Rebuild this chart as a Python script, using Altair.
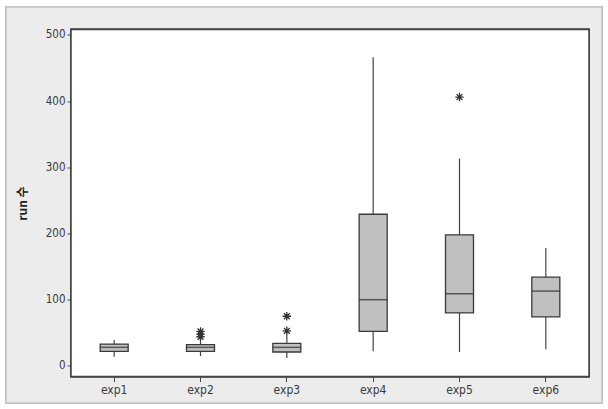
import altair as alt
import pandas as pd

groups = ["exp1", "exp2", "exp3", "exp4", "exp5", "exp6"]
w_low = [14, 15, 12, 22, 21, 25]
q1 = [22, 22, 21, 52, 80, 74]
median = [28, 28, 28, 100, 109, 113]
q3 = [33, 32, 34, 229, 198, 134]
w_high = [39, 40, 47, 466, 313, 178]

out_group = ["exp2", "exp2", "exp2", "exp3", "exp3", "exp5"]
out_value = [44, 48, 52, 53, 75, 406]

box = pd.DataFrame({"exp": groups, "lo": w_low, "q1": q1, "med": median, "q3": q3, "hi": w_high})
outl = pd.DataFrame({"exp": out_group, "v": out_value})

W, H = 518, 347
ydom = [-16, 508]

xenc = alt.X("exp:N", sort=groups, title=None,
             scale=alt.Scale(paddingInner=0, paddingOuter=0),
             axis=alt.Axis(labelAngle=0, labelFontSize=12, labelColor="#3a3a3a",
                           labelFont="DejaVu Sans Condensed", tickSize=5, tickColor="#444444",
                           domain=False, labelPadding=3, zindex=1))
yscale = alt.Scale(domain=ydom, nice=False, zero=False)
yaxis = alt.Axis(values=[0, 100, 200, 300, 400, 500], labelFontSize=11.5, labelColor="#3a3a3a",
                 labelFont="DejaVu Sans Condensed", tickSize=4, tickColor="#444444",
                 domain=False, grid=False, labelPadding=2, zindex=1,
                 title="run 수", titleFontSize=12, titleFontWeight="bold",
                 titleFont="Noto Sans CJK KR", titleColor="#222222", titlePadding=16)

base = alt.Chart(box)

frame = base.mark_rect(fill="#ececec", stroke="#c4c4c4", strokeWidth=1.5).encode(
    x=alt.value(-65), x2=alt.value(531), y=alt.value(-22.5), y2=alt.value(373.5))
plotbg = base.mark_rect(fill="white", stroke="#444444", strokeWidth=1.5).encode(
    x=alt.value(0), x2=alt.value(W), y=alt.value(0), y2=alt.value(H))

whisk = base.mark_rule(color="#444444", strokeWidth=1.2).encode(
    x=xenc, y=alt.Y("lo:Q", scale=yscale, axis=yaxis), y2="hi:Q")
boxes = base.mark_bar(size=28, fill="#c0c0c0", stroke="#3a3a3a", strokeWidth=1.3).encode(
    x=xenc, y=alt.Y("q1:Q", scale=yscale, axis=yaxis), y2="q3:Q")
meds = base.mark_tick(size=28, thickness=1.5, color="#2a2a2a").encode(
    x=xenc, y=alt.Y("med:Q", scale=yscale, axis=yaxis))

ast = "M-1,0L1,0M0,-1L0,1M-0.7,-0.7L0.7,0.7M-0.7,0.7L0.7,-0.7"
outs = alt.Chart(outl).mark_point(shape=ast, size=70, filled=False, stroke="#333333",
                                   strokeWidth=1.3, opacity=1).encode(
    x=xenc, y=alt.Y("v:Q", scale=yscale, axis=yaxis))

chart = alt.layer(frame, plotbg, whisk, boxes, meds, outs).properties(
    width=W, height=H,
    autosize=alt.AutoSizeParams(type="none"),
    padding={"left": 71, "top": 29.5, "right": 19, "bottom": 32.5},
    background="white",
).configure_view(stroke=None)

chart.save("out.html", embed_options={"renderer": "svg", "actions": False})
